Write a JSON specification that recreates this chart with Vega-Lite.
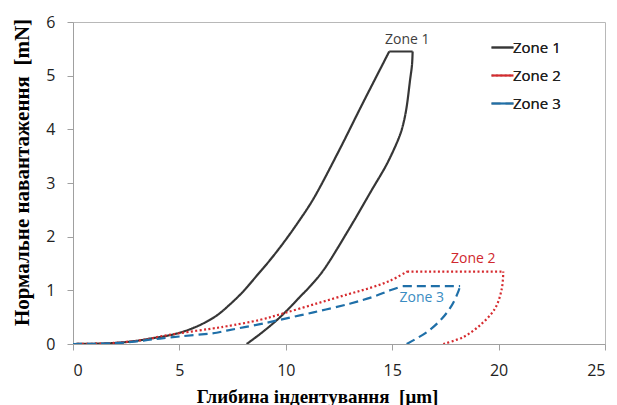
{
  "$schema": "https://vega.github.io/schema/vega-lite/v6.json",
  "width": 532,
  "height": 322,
  "autosize": {"type": "none"},
  "padding": {"left": 73, "top": 22, "right": 12, "bottom": 61},
  "background": "white",
  "config": {
    "view": {"stroke": "#b8b8b8", "strokeWidth": 1},
    "font": "Open Sans"
  },
  "datasets": {
    "curves": [
      {"zone": "Zone 1", "part": "load", "x": 0, "y": 0},
      {"zone": "Zone 1", "part": "load", "x": 1, "y": 0.005},
      {"zone": "Zone 1", "part": "load", "x": 2, "y": 0.02},
      {"zone": "Zone 1", "part": "load", "x": 3, "y": 0.06},
      {"zone": "Zone 1", "part": "load", "x": 3.62, "y": 0.1},
      {"zone": "Zone 1", "part": "load", "x": 4.5, "y": 0.16},
      {"zone": "Zone 1", "part": "load", "x": 5.18, "y": 0.23},
      {"zone": "Zone 1", "part": "load", "x": 6, "y": 0.36},
      {"zone": "Zone 1", "part": "load", "x": 6.75, "y": 0.53},
      {"zone": "Zone 1", "part": "load", "x": 7.38, "y": 0.74},
      {"zone": "Zone 1", "part": "load", "x": 8, "y": 0.98},
      {"zone": "Zone 1", "part": "load", "x": 8.63, "y": 1.27},
      {"zone": "Zone 1", "part": "load", "x": 9.25, "y": 1.56},
      {"zone": "Zone 1", "part": "load", "x": 9.88, "y": 1.88},
      {"zone": "Zone 1", "part": "load", "x": 10.6, "y": 2.28},
      {"zone": "Zone 1", "part": "load", "x": 11.29, "y": 2.7},
      {"zone": "Zone 1", "part": "load", "x": 12.47, "y": 3.58},
      {"zone": "Zone 1", "part": "load", "x": 13.57, "y": 4.45},
      {"zone": "Zone 1", "part": "load", "x": 14.86, "y": 5.45},
      {"zone": "Zone 1", "part": "top", "x": 14.86, "y": 5.45},
      {"zone": "Zone 1", "part": "top", "x": 15.96, "y": 5.45},
      {"zone": "Zone 1", "part": "unload", "x": 15.96, "y": 5.45},
      {"zone": "Zone 1", "part": "unload", "x": 15.93, "y": 5.2},
      {"zone": "Zone 1", "part": "unload", "x": 15.84, "y": 4.92},
      {"zone": "Zone 1", "part": "unload", "x": 15.68, "y": 4.42},
      {"zone": "Zone 1", "part": "unload", "x": 15.55, "y": 4.15},
      {"zone": "Zone 1", "part": "unload", "x": 15.37, "y": 3.9},
      {"zone": "Zone 1", "part": "unload", "x": 14.77, "y": 3.37},
      {"zone": "Zone 1", "part": "unload", "x": 14.04, "y": 2.87},
      {"zone": "Zone 1", "part": "unload", "x": 12.94, "y": 2.12},
      {"zone": "Zone 1", "part": "unload", "x": 11.76, "y": 1.37},
      {"zone": "Zone 1", "part": "unload", "x": 11.2, "y": 1.1},
      {"zone": "Zone 1", "part": "unload", "x": 10.67, "y": 0.88},
      {"zone": "Zone 1", "part": "unload", "x": 9.73, "y": 0.5},
      {"zone": "Zone 1", "part": "unload", "x": 8.9, "y": 0.22},
      {"zone": "Zone 1", "part": "unload", "x": 8.16, "y": 0},
      {"zone": "Zone 2", "part": "load", "x": 0, "y": 0},
      {"zone": "Zone 2", "part": "load", "x": 1, "y": 0.005},
      {"zone": "Zone 2", "part": "load", "x": 1.9, "y": 0.02},
      {"zone": "Zone 2", "part": "load", "x": 3, "y": 0.06},
      {"zone": "Zone 2", "part": "load", "x": 3.62, "y": 0.1},
      {"zone": "Zone 2", "part": "load", "x": 4.09, "y": 0.14},
      {"zone": "Zone 2", "part": "load", "x": 5, "y": 0.2},
      {"zone": "Zone 2", "part": "load", "x": 6.75, "y": 0.3},
      {"zone": "Zone 2", "part": "load", "x": 7.22, "y": 0.33},
      {"zone": "Zone 2", "part": "load", "x": 8.79, "y": 0.45},
      {"zone": "Zone 2", "part": "load", "x": 9.88, "y": 0.57},
      {"zone": "Zone 2", "part": "load", "x": 11.5, "y": 0.76},
      {"zone": "Zone 2", "part": "load", "x": 12.95, "y": 0.93},
      {"zone": "Zone 2", "part": "load", "x": 14, "y": 1.05},
      {"zone": "Zone 2", "part": "load", "x": 14.9, "y": 1.18},
      {"zone": "Zone 2", "part": "load", "x": 15.7, "y": 1.35},
      {"zone": "Zone 2", "part": "top", "x": 15.7, "y": 1.35},
      {"zone": "Zone 2", "part": "top", "x": 20.22, "y": 1.35},
      {"zone": "Zone 2", "part": "unload", "x": 20.22, "y": 1.35},
      {"zone": "Zone 2", "part": "unload", "x": 20.15, "y": 1.03},
      {"zone": "Zone 2", "part": "unload", "x": 19.83, "y": 0.66},
      {"zone": "Zone 2", "part": "unload", "x": 19.13, "y": 0.35},
      {"zone": "Zone 2", "part": "unload", "x": 18.34, "y": 0.13},
      {"zone": "Zone 2", "part": "unload", "x": 17.4, "y": 0},
      {"zone": "Zone 3", "part": "load", "x": 0, "y": 0},
      {"zone": "Zone 3", "part": "load", "x": 1, "y": 0.004},
      {"zone": "Zone 3", "part": "load", "x": 2, "y": 0.015},
      {"zone": "Zone 3", "part": "load", "x": 3, "y": 0.05},
      {"zone": "Zone 3", "part": "load", "x": 3.62, "y": 0.08},
      {"zone": "Zone 3", "part": "load", "x": 4.09, "y": 0.1},
      {"zone": "Zone 3", "part": "load", "x": 5, "y": 0.14},
      {"zone": "Zone 3", "part": "load", "x": 6.75, "y": 0.21},
      {"zone": "Zone 3", "part": "load", "x": 7.22, "y": 0.25},
      {"zone": "Zone 3", "part": "load", "x": 8.79, "y": 0.37},
      {"zone": "Zone 3", "part": "load", "x": 9.6, "y": 0.44},
      {"zone": "Zone 3", "part": "load", "x": 11.3, "y": 0.59},
      {"zone": "Zone 3", "part": "load", "x": 13.0, "y": 0.75},
      {"zone": "Zone 3", "part": "load", "x": 14.11, "y": 0.88},
      {"zone": "Zone 3", "part": "load", "x": 14.9, "y": 1.0},
      {"zone": "Zone 3", "part": "load", "x": 15.5, "y": 1.08},
      {"zone": "Zone 3", "part": "top", "x": 15.5, "y": 1.08},
      {"zone": "Zone 3", "part": "top", "x": 18.19, "y": 1.08},
      {"zone": "Zone 3", "part": "unload", "x": 18.19, "y": 1.08},
      {"zone": "Zone 3", "part": "unload", "x": 18.1, "y": 0.97},
      {"zone": "Zone 3", "part": "unload", "x": 17.8, "y": 0.72},
      {"zone": "Zone 3", "part": "unload", "x": 17.33, "y": 0.47},
      {"zone": "Zone 3", "part": "unload", "x": 16.62, "y": 0.22},
      {"zone": "Zone 3", "part": "unload", "x": 15.68, "y": 0}
    ],
    "labels": [
      {"zone": "Zone 1", "x": 15.71, "y": 5.67},
      {"zone": "Zone 2", "x": 18.81, "y": 1.59},
      {"zone": "Zone 3", "x": 16.39, "y": 0.86}
    ]
  },
  "layer": [
    {
      "data": {"name": "curves"},
      "mark": {"type": "line", "strokeWidth": 2.2, "strokeCap": "butt", "interpolate": "catmull-rom", "clip": true},
      "encoding": {
        "x": {
          "field": "x", "type": "quantitative",
          "scale": {"domain": [0, 25], "nice": false, "zero": false},
          "axis": {
            "title": "Глибина індентування \u00a0[μm]",
            "values": [0, 5, 10, 15, 20, 25],
            "format": "d",
            "grid": false,
            "domainColor": "#a0a0a0",
            "tickColor": "#a0a0a0",
            "tickSize": 6,
            "labelFont": "Open Sans",
            "labelFontSize": 16,
            "labelColor": "#222222",
            "labelPadding": 12,
            "titleFont": "Liberation Serif",
            "titleFontSize": 19,
            "titleFontWeight": "bold",
            "titleColor": "#000000",
            "titleX": 244,
            "titleY": 58,
            "titleBaseline": "alphabetic",
            "titleAlign": "center"
          }
        },
        "y": {
          "field": "y", "type": "quantitative",
          "scale": {"domain": [0, 6], "nice": false, "zero": false},
          "axis": {
            "title": "Нормальне навантаження \u00a0[mN]",
            "values": [0, 1, 2, 3, 4, 5, 6],
            "format": "d",
            "grid": false,
            "domainColor": "#a0a0a0",
            "tickColor": "#a0a0a0",
            "tickSize": 6,
            "labelFont": "Open Sans",
            "labelFontSize": 16,
            "labelColor": "#222222",
            "labelPadding": 12,
            "titleFont": "Liberation Serif",
            "titleFontSize": 21,
            "titleFontWeight": "bold",
            "titleColor": "#000000",
            "titleX": -41,
            "titleY": 150,
            "titleAngle": -90,
            "titleAlign": "center",
            "titleBaseline": "bottom"
          }
        },
        "color": {
          "field": "zone", "type": "nominal",
          "scale": {"domain": ["Zone 1", "Zone 2", "Zone 3"], "range": ["#363636", "#d62a2e", "#1f6fa8"]},
          "legend": {
            "title": null,
            "orient": "none",
            "legendX": 417,
            "legendY": 13,
            "padding": 0,
            "symbolType": "stroke",
            "symbolSize": 484,
            "symbolStrokeWidth": 2.2,
            "labelFont": "Open Sans",
            "labelFontSize": 15,
            "labelColor": "#222222",
            "labelOffset": -2,
            "rowPadding": 7
          }
        },
        "strokeDash": {
          "field": "zone", "type": "nominal",
          "scale": {"domain": ["Zone 1", "Zone 2", "Zone 3"], "range": [[1, 0], [2, 2.4], [9, 5]]},
          "legend": {
            "title": null,
            "orient": "none",
            "legendX": 417,
            "legendY": 13,
            "padding": 0,
            "symbolType": "stroke",
            "symbolSize": 484,
            "symbolStrokeWidth": 2.2,
            "labelFont": "Open Sans",
            "labelFontSize": 15,
            "labelColor": "#222222",
            "labelOffset": -2,
            "rowPadding": 7
          }
        },
        "detail": {"field": "part", "type": "nominal"},
        "order": {"field": "x", "type": "quantitative"}
      }
    },
    {
      "data": {"name": "labels"},
      "mark": {"type": "text", "font": "Open Sans", "fontSize": 14, "align": "center", "baseline": "middle"},
      "encoding": {
        "x": {"field": "x", "type": "quantitative"},
        "y": {"field": "y", "type": "quantitative"},
        "text": {"field": "zone"},
        "color": {
          "field": "zone", "type": "nominal",
          "scale": {"domain": ["Zone 1", "Zone 2", "Zone 3"], "range": ["#404040", "#d0282e", "#3a8cc2"]},
          "legend": null
        }
      }
    }
  ],
  "resolve": {"scale": {"color": "independent"}}
}
